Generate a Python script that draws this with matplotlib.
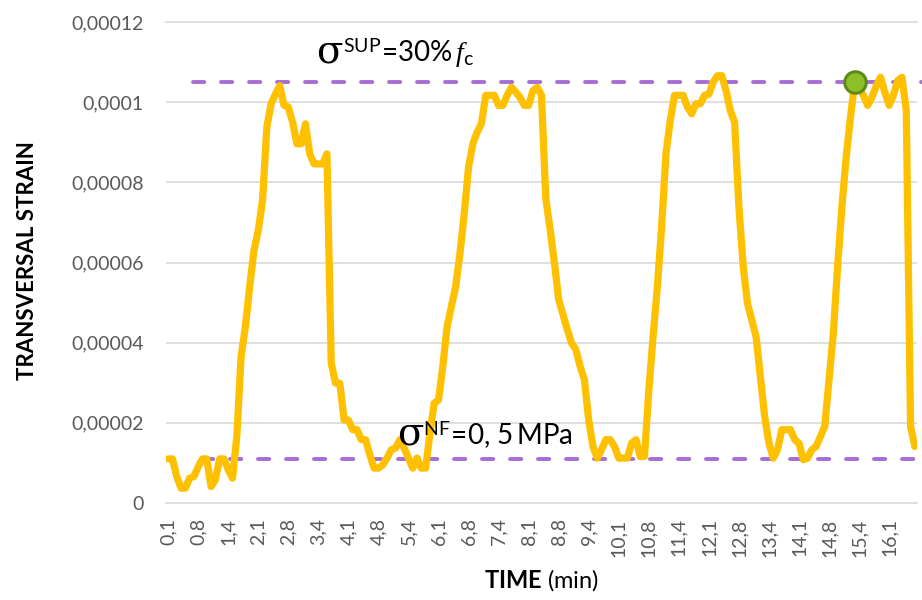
import matplotlib
matplotlib.use("Agg")
import matplotlib.pyplot as plt
import numpy as np

plt.rcParams['font.family'] = ['Lato', 'DejaVu Sans']
plt.rcParams['mathtext.fontset'] = 'custom'
plt.rcParams['mathtext.rm'] = 'Lato'
plt.rcParams['mathtext.it'] = 'Liberation Serif:italic'
plt.rcParams['mathtext.bf'] = 'Lato:bold'

# transversal strain readings (x 1e-5), one per time step
strain_e5 = [
    1.10, 1.10, 0.66, 0.37, 0.37, 0.62, 0.66, 0.90, 1.10, 1.10,
    0.41, 0.58, 1.10, 1.10, 0.83, 0.62, 1.66, 3.65, 4.40, 5.40,
    6.30, 6.80, 7.55, 9.38, 9.96, 10.20, 10.41, 9.92, 9.88, 9.50,
    8.96, 8.96, 9.46, 8.71, 8.46, 8.46, 8.46, 8.71, 3.49, 2.99,
    2.99, 2.07, 2.07, 1.83, 1.83, 1.58, 1.58, 1.20, 0.87, 0.87,
    0.95, 1.12, 1.33, 1.37, 1.58, 1.37, 1.12, 0.87, 1.12, 0.87,
    0.87, 1.74, 2.49, 2.57, 3.40, 4.40, 4.90, 5.40, 6.22, 7.22,
    8.38, 8.96, 9.25, 9.46, 10.17, 10.17, 10.17, 9.92, 9.92, 10.17,
    10.37, 10.25, 10.12, 9.92, 9.92, 10.29, 10.37, 10.17, 7.60, 6.83,
    6.00, 5.08, 4.70, 4.33, 3.99, 3.83, 3.41, 3.07, 2.07, 1.41,
    1.12, 1.33, 1.58, 1.58, 1.41, 1.12, 1.12, 1.12, 1.49, 1.58,
    1.16, 1.16, 2.80, 4.15, 5.40, 6.90, 8.71, 9.54, 10.17, 10.17,
    10.17, 9.88, 9.71, 9.96, 9.96, 10.17, 10.20, 10.50, 10.66, 10.66,
    10.29, 9.79, 9.50, 7.39, 5.90, 4.98, 4.56, 4.15, 3.15, 2.16,
    1.49, 1.12, 1.33, 1.83, 1.83, 1.83, 1.58, 1.49, 1.08, 1.12,
    1.33, 1.41, 1.66, 1.91, 3.07, 4.23, 5.90, 7.39, 8.63, 9.63,
    10.50, 10.37, 10.17, 9.92, 10.12, 10.41, 10.62, 10.25, 9.92, 10.17,
    10.54, 10.62, 9.79, 1.91, 1.41,
]

time_labels = ["0,1", "0,8", "1,4", "2,1", "2,8", "3,4", "4,1", "4,8", "5,4",
               "6,1", "6,8", "7,4", "8,1", "8,8", "9,4", "10,1", "10,8", "11,4",
               "12,1", "12,8", "13,4", "14,1", "14,8", "15,4", "16,1"]
label_step = 7

y_ticks = [0, 0.00002, 0.00004, 0.00006, 0.00008, 0.0001, 0.00012]
y_tick_labels = ["0", "0,00002", "0,00004", "0,00006", "0,00008", "0,0001", "0,00012"]

sigma_sup = 0.000105   # 30% fc level
sigma_nf = 0.000011    # 0.5 MPa level
marker_idx = 160

strain = np.array(strain_e5) * 1e-5
x = np.arange(len(strain))

fig = plt.figure(figsize=(9.22, 6.0), dpi=100)
ax = fig.add_axes([166 / 922, 97 / 600, 751 / 922, 481 / 600])

grid_c = '#d9d9d9'
for yt in y_ticks[1:-1]:
    ax.axhline(yt, color=grid_c, lw=1.2, zorder=0)
for side in ['left', 'right']:
    ax.spines[side].set_visible(False)
for side in ['top', 'bottom']:
    ax.spines[side].set_color(grid_c)
    ax.spines[side].set_linewidth(1.2)

# reference stress levels
dash_kw = dict(color='#A66DD4', lw=2.8, dashes=(2.9, 4.3), dash_capstyle='round',
               clip_on=False, zorder=2)
ax.plot([5.8, 176], [sigma_sup, sigma_sup], **dash_kw)
ax.plot([7.9, 174.0], [sigma_nf, sigma_nf], **dash_kw)

ax.plot(x, strain, color='#FFC000', lw=5.2, solid_joinstyle='round',
        solid_capstyle='round', zorder=3)
ax.plot(x[marker_idx], strain[marker_idx], 'o', ms=15.5, mfc='#8DC026',
        mec='#5E8A1C', mew=2.2, zorder=4)


def stress_label(xi, yv, rest):
    # big upright sigma, then the rest of the label just right of it
    ax.text(xi, yv, '\u03c3', fontsize=28, family='DejaVu Serif',
            ha='right', va='baseline', zorder=5)
    ax.text(xi, yv, rest, fontsize=20, ha='left', va='baseline', zorder=5)


stress_label(40.7, 0.00011, r'${}^{\mathrm{SUP}}\!=\!\mathrm{30\%}\,f_{\mathrm{c}}$')
stress_label(59.5, 0.0000145, r'${}^{\mathrm{NF}}\!=\!\mathrm{0,\,5\,MPa}$')

ax.set_xlim(-0.5, len(strain) - 0.5)
ax.set_ylim(0, 0.00012)
ax.set_yticks(y_ticks)
ax.set_yticklabels(y_tick_labels)
ax.set_xticks(x[::label_step][:len(time_labels)])
ax.set_xticklabels(time_labels, rotation=90)
ax.tick_params(length=0, labelsize=14, labelcolor='#595959')
ax.tick_params(axis='y', pad=16)
ax.tick_params(axis='x', pad=11)

fig.text(27 / 922, 1 - 261 / 600, 'TRANSVERSAL STRAIN', rotation=90,
         fontsize=16, fontweight='bold', ha='center', va='center')
fig.text(541 / 922, 1 - 580 / 600, r'$\mathbf{TIME}$ (min)', fontsize=17,
         ha='center', va='center')

fig.savefig('out.png', dpi=100)
